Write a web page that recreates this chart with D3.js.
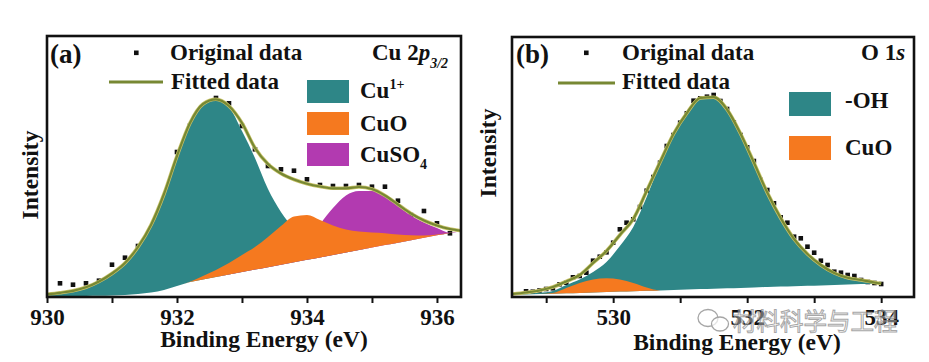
<!DOCTYPE html>
<html><head><meta charset="utf-8">
<script src="https://cdn.jsdelivr.net/npm/d3@7"></script>
<style>body{margin:0;background:#fff}svg{display:block}</style>
</head><body><svg id="c" width="929" height="362"></svg>
<script>
// ---------- Panel (a): Cu 2p3/2 ----------
const aEnergy = [930.0,930.2,930.4,930.6,930.8,931.0,931.2,931.4,931.6,931.8,932.0,932.2,932.4,932.6,932.8,933.0,933.2,933.4,933.6,933.8,934.0,934.2,934.4,934.6,934.8,935.0,935.2,935.4,935.6,935.8,936.0,936.2,936.4];
const aBackground = [0.5,0.7,0.8,1.0,1.2,1.5,2.0,3.0,4.5,7.0,11,15,17.6,20,22.5,24.9,27.4,29.8,32.3,34.7,37.2,39.6,42.1,44.5,47,49.4,51.9,54.3,56.8,59.2,61.7,64.1,66.6];
const aCu1 = [2.5,4,6,9.5,15,23,33.5,49.5,71.5,102.5,140,173,192,197,190,166,139,108,85,68,55,48,45,45.5,47.5,49.6,52,54.4,56.9,59.3,61.8,64.2,66.6];
const aCuO = [0.5,0.7,0.8,1.0,1.2,1.5,2.0,3.0,4.5,7.0,11,15.2,21,27,34,42,50,60,71,80.5,82,77,71.5,67.5,65.5,64.5,63.8,62.5,61.7,61.5,62.5,64.3,66.6];
const aCuSO4 = [0.5,0.7,0.8,1.0,1.2,1.5,2.0,3.0,4.5,7.0,11,15,17.6,20,23,26,29.5,33.5,39,47,58,73,89,101.5,106,106,102,91.5,81.5,74.5,69,64.3,66.6];
const aFitted = [2.7,4.2,6.2,9.7,15.5,23.5,34,50,72,103,141,174,193,197.7,191,174,149,133,123.5,117.5,113.3,110.5,108.7,108.7,110,108,101.5,92.5,83.5,76.5,71.5,68,66];
const aPointEnergy = [930.2,930.4,930.6,930.8,931.0,931.2,931.4,931.6,931.8,932.0,932.2,932.4,932.6,932.8,933.0,933.2,933.4,933.6,933.8,934.0,934.2,934.4,934.6,934.8,935.0,935.2,935.4,935.6,935.8,936.0,936.2];
const aPointIntensity = [13.7,12.3,13.7,16.3,32.3,39.3,51,68,98,145,171.3,188,199,193.7,171,147.7,131,127.7,126.3,117.7,112,111,111,112,110.3,110.3,96.3,82,86,73.7,63.7];
const aTicks = [930,932,934,936];
const aMinorTicks = [931,933,935];
const aLegend = ["Cu", "CuO", "CuSO"];

// ---------- Panel (b): O 1s ----------
const bEnergy = [528.5,528.7,528.9,529.1,529.3,529.5,529.7,529.9,530.1,530.3,530.5,530.7,530.9,531.1,531.3,531.5,531.7,531.9,532.1,532.3,532.5,532.7,532.9,533.1,533.3,533.5,533.7,533.9,534.0];
const bBackground = [2.0,2.4,2.9,3.3,3.7,4.1,4.5,4.9,5.4,5.8,6.2,6.6,7.0,7.5,7.9,8.3,8.7,9.1,9.5,10.0,10.4,10.8,11.2,11.6,12.0,12.5,12.9,13.3,13.5];
const bOH = [2.5,3.2,4.2,6,12,17.5,25,35,51,70,100,134,162.5,184,199,199.8,187.5,163.5,134.5,104.4,79,58,43,32,24,19.2,17,14.5,13.5];
const bCuO = [2.0,2.4,2.9,4,9,14,17.5,18.7,17.5,14,9.5,6.6,7.0,7.5,7.9,8.3,8.7,9.1,9.5,10.0,10.4,10.8,11.2,11.6,12.0,12.5,12.9,13.3,13.5];
const bFitted = [3,4.5,6.5,10,15.5,22,34,46,62,78,106,135,163,184,199,199.8,187.5,163.5,134.5,104.4,79,58,43,32,24,19.2,17,14.5,13.5];
const bPointEnergy = [528.7,528.8,528.9,529.0,529.1,529.2,529.3,529.4,529.5,529.6,529.7,529.8,529.9,530.0,530.1,530.2,530.3,530.4,530.5,530.6,530.7,530.8,530.9,531.0,531.1,531.2,531.3,531.4,531.5,531.6,531.7,531.8,531.9,532.0,532.1,532.2,532.3,532.4,532.5,532.6,532.7,532.8,532.9,533.0,533.1,533.2,533.3,533.4,533.5,533.6,533.7,533.8,533.9,534.0];
const bPointIntensity = [5.7,5.3,6.5,8,8.7,12.7,14.3,19.7,21,24.3,36.3,40.3,44.7,54.3,67.7,74.3,77.7,90,106.3,120,134.3,151,162,174.3,183.7,196.3,198.7,200.3,202,196,188,174.7,162,149.7,136,117,107,93.7,79.7,74.3,60.3,58.7,50.3,44.3,36.3,32,25.3,24.3,22,21,17,15,14,13];
const bTicks = [530,532,534];
const bMinorTicks = [529,531,533];
const bLegend = ["-OH", "CuO"];

const TEAL = "#2e8687", ORANGE = "#f5791f", MAGENTA = "#b23ab0", OLIVE = "#778833";
const FONT = "'Liberation Serif','Times New Roman',serif";

const svg = d3.select("#c");

function panel(cfg) {
  const {id, x, y, energy, bg, comps, fitted, pE, pI, ticks, minor} = cfg;
  const [x0, x1] = x.range(), [yb, yt] = y.range();
  const g = svg.append("g");
  svg.append("clipPath").attr("id", "clip" + id).append("rect")
    .attr("x", x0).attr("y", yt).attr("width", x1 - x0).attr("height", yb - yt);
  const plot = g.append("g").attr("clip-path", `url(#clip${id})`);
  // original data points (drawn beneath the fills)
  plot.selectAll("rect.pt").data(pE.map((e, i) => [e, pI[i]])).join("rect")
    .attr("class", "pt").attr("x", d => x(d[0]) - 2.3).attr("y", d => y(d[1]) - 2.3)
    .attr("width", 4.6).attr("height", 4.6).attr("fill", "#111");
  // component fills
  comps.forEach(c => {
    const area = d3.area().x((d, i) => x(energy[i])).y0((d, i) => y(bg[i])).y1(d => y(d))
      .curve(d3.curveMonotoneX);
    plot.append("path").datum(c.values).attr("d", area).attr("fill", c.color);
  });
  // fitted line
  const line = d3.line().x((d, i) => x(energy[i])).y(d => y(d)).curve(d3.curveMonotoneX);
  plot.append("path").datum(fitted).attr("d", line).attr("fill", "none")
    .attr("stroke", "#c9c36a").attr("stroke-width", 3.6);
  plot.append("path").datum(fitted).attr("d", line).attr("fill", "none")
    .attr("stroke", OLIVE).attr("stroke-width", 2.2);
  // axes
  const ax = g.append("g").attr("transform", `translate(0,${yb})`)
    .call(d3.axisBottom(x).tickValues(ticks).tickFormat(d3.format("d")).tickSize(6).tickPadding(6));
  ax.select(".domain").remove();
  ax.selectAll("line").attr("stroke", "#111").attr("stroke-width", 2);
  ax.selectAll("text").attr("font-family", FONT).attr("font-weight", "bold")
    .attr("font-size", 23).attr("fill", "#111");
  const mx = g.append("g").attr("transform", `translate(0,${yb})`)
    .call(d3.axisBottom(x).tickValues(minor).tickFormat("").tickSize(6));
  mx.select(".domain").remove();
  mx.selectAll("line").attr("stroke", "#111").attr("stroke-width", 2);
  // frame
  g.append("rect").attr("x", x0).attr("y", yt).attr("width", x1 - x0).attr("height", yb - yt)
    .attr("fill", "none").attr("stroke", "#111").attr("stroke-width", 2.6);
  return g;
}

const xa = d3.scaleLinear().domain([930, 936.37]).range([47, 461]);
const ya = d3.scaleLinear().domain([0, 261]).range([297, 36]);
const xb = d3.scaleLinear().domain([528.49, 534.49]).range([512, 914]);
const yb = d3.scaleLinear().domain([0, 260]).range([297, 37]);

const ga = panel({id: "a", x: xa, y: ya, energy: aEnergy, bg: aBackground,
  comps: [{values: aCu1, color: TEAL}, {values: aCuSO4, color: MAGENTA}, {values: aCuO, color: ORANGE}],
  fitted: aFitted, pE: aPointEnergy, pI: aPointIntensity, ticks: aTicks, minor: aMinorTicks});
const gb = panel({id: "b", x: xb, y: yb, energy: bEnergy, bg: bBackground,
  comps: [{values: bOH, color: TEAL}, {values: bCuO, color: ORANGE}],
  fitted: bFitted, pE: bPointEnergy, pI: bPointIntensity, ticks: bTicks, minor: bMinorTicks});

function txt(g, x, y, s, size, opts = {}) {
  const t = g.append("text").attr("x", x).attr("y", y).attr("font-family", FONT)
    .attr("font-weight", "bold").attr("font-size", size).attr("fill", "#111");
  if (opts.anchor) t.attr("text-anchor", opts.anchor);
  if (opts.rotate) t.attr("transform", `rotate(-90,${x},${y})`);
  if (s !== null) t.text(s);
  return t;
}

// ----- panel (a) annotations -----
txt(ga, 50, 63, "(a)", 27);
ga.append("rect").attr("x", 134).attr("y", 50.5).attr("width", 4.6).attr("height", 4.6).attr("fill", "#111");
txt(ga, 170, 60, "Original data", 23);
ga.append("line").attr("x1", 109).attr("x2", 163).attr("y1", 82).attr("y2", 82)
  .attr("stroke", OLIVE).attr("stroke-width", 3);
txt(ga, 171, 89, "Fitted data", 23);
{
  const t = txt(ga, 372, 60, null, 23);
  t.append("tspan").text("Cu 2");
  t.append("tspan").attr("font-style", "italic").text("p");
  t.append("tspan").attr("font-style", "italic").attr("font-size", 14).attr("dy", 8).text("3/2");
}
const aBoxY = [80, 112, 143];
[TEAL, ORANGE, MAGENTA].forEach((c, i) => {
  ga.append("rect").attr("x", 307).attr("y", aBoxY[i]).attr("width", 42).attr("height", 23).attr("fill", c);
});
{
  const t = txt(ga, 360, 98, null, 23);
  t.append("tspan").text(aLegend[0]);
  t.append("tspan").attr("font-size", 14).attr("dy", -9).text("1+");
  txt(ga, 360, 131, aLegend[1], 23);
  const t2 = txt(ga, 360, 162, null, 23);
  t2.append("tspan").text(aLegend[2]);
  t2.append("tspan").attr("font-size", 14).attr("dy", 7).text("4");
}
txt(ga, 38, 175, "Intensity", 23.5, {anchor: "middle", rotate: true});
txt(ga, 264, 347, "Binding Energy (eV)", 23.5, {anchor: "middle"});

// ----- panel (b) annotations -----
txt(gb, 516, 63, "(b)", 27);
gb.append("rect").attr("x", 584).attr("y", 50.5).attr("width", 4.6).attr("height", 4.6).attr("fill", "#111");
txt(gb, 622, 60, "Original data", 23);
gb.append("line").attr("x1", 558).attr("x2", 615).attr("y1", 83).attr("y2", 83)
  .attr("stroke", OLIVE).attr("stroke-width", 3);
txt(gb, 622, 89, "Fitted data", 23);
{
  const t = txt(gb, 861, 60, null, 23);
  t.append("tspan").text("O 1");
  t.append("tspan").attr("font-style", "italic").text("s");
}
gb.append("rect").attr("x", 789).attr("y", 92).attr("width", 42).attr("height", 24).attr("fill", TEAL);
gb.append("rect").attr("x", 789).attr("y", 136).attr("width", 42).attr("height", 24).attr("fill", ORANGE);
txt(gb, 845, 108, bLegend[0], 23);
txt(gb, 845, 155, bLegend[1], 23);
txt(gb, 496, 153, "Intensity", 23.5, {anchor: "middle", rotate: true});
txt(gb, 737, 350, "Binding Energy (eV)", 23.5, {anchor: "middle"});

// ----- watermark -----
const wm = svg.append("g").attr("opacity", 0.75);
wm.append("ellipse").attr("cx", 708).attr("cy", 318).attr("rx", 10).attr("ry", 8.5)
  .attr("fill", "none").attr("stroke", "#888").attr("stroke-width", 1.3);
wm.append("ellipse").attr("cx", 720).attr("cy", 324).attr("rx", 8.5).attr("ry", 7)
  .attr("fill", "rgba(255,255,255,0.7)").attr("stroke", "#888").attr("stroke-width", 1.3);
wm.append("text").attr("x", 733).attr("y", 330).attr("font-family", "'Noto Sans CJK SC',sans-serif")
  .attr("font-size", 23.5).attr("fill", "rgba(255,255,255,0.55)").attr("stroke", "#8a8a8a")
  .attr("stroke-width", 1).text("材料科学与工程");
</script></body></html>
